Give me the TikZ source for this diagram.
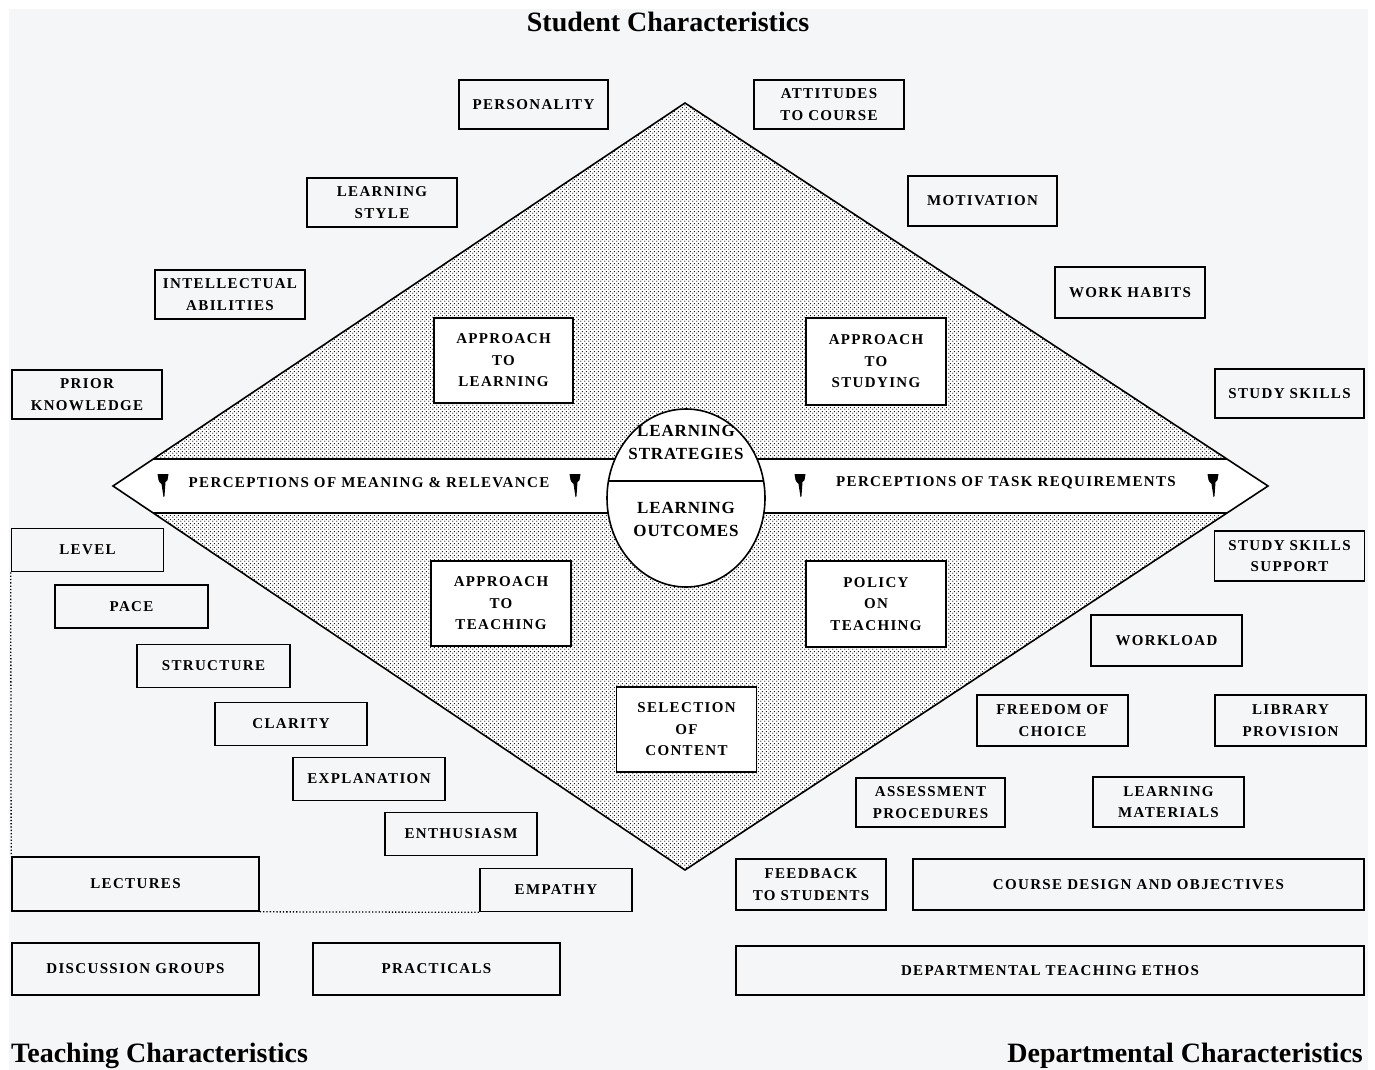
\documentclass[tikz,border=0pt]{standalone}
\usepackage{fontspec}
\setmainfont{Liberation Serif}
\newfontfamily\boxfont[LetterSpace=9]{Liberation Serif}
\newfontfamily\ellfont[LetterSpace=5]{Liberation Serif}
\usetikzlibrary{patterns.meta,shapes.geometric}
\definecolor{bg}{HTML}{F5F6F8}
\tikzdeclarepattern{
  name=mydots,
  type=uncolored,
  bounding box={(0pt,0pt) and (4pt,4pt)},
  tile size={(4pt,4pt)},
  code={
    \pgfpathcircle{\pgfpoint{1pt}{1pt}}{0.72pt}
    \pgfpathcircle{\pgfpoint{3pt}{3pt}}{0.72pt}
    \pgfusepath{fill}
  }
}
\begin{document}
\begin{tikzpicture}[x=1pt,y=-1pt,
  box/.style={draw=black, line width=1.6pt, fill=bg, inner sep=0pt, align=center,
    font=\boxfont\bfseries\fontsize{15}{21.5}\selectfont},
  wbox/.style={box, fill=white},
  bandtext/.style={inner sep=0pt, font=\boxfont\bfseries\fontsize{15}{18}\selectfont},
  title/.style={inner sep=0pt, font=\bfseries\fontsize{28}{32}\selectfont},
  tack/.pic={\fill[black] (-5.5,0) -- (5.5,0) -- (4.5,6) -- (2.5,8) -- (1.5,22) -- (0.5,23) -- (-1.5,10) -- (-3.5,8) -- (-4.5,6) -- cycle;},
  link/.style={dotted, line width=1.3pt}
]
\useasboundingbox (0,0) rectangle (1375,1070);
\fill[white] (0,0) rectangle (1375,1070);
\fill[bg] (9,9) rectangle (1368,1070);

% diamond
\coordinate (dT) at (685,103);
\coordinate (dR) at (1268,486);
\coordinate (dB) at (685,870);
\coordinate (dL) at (113,486);
\fill[white] (dT) -- (dR) -- (dB) -- (dL) -- cycle;
\fill[pattern=mydots, pattern color=black] (dT) -- (dR) -- (dB) -- (dL) -- cycle;
\begin{scope}
  \clip (dT) -- (dR) -- (dB) -- (dL) -- cycle;
  \fill[white] (100,459) rectangle (1280,513);
  \draw[line width=1.6pt] (100,459) -- (1280,459) (100,513) -- (1280,513);
\end{scope}
\draw[line width=1.6pt, line join=miter] (dT) -- (dR) -- (dB) -- (dL) -- cycle;

% central ellipse
\node[ellipse, draw=black, line width=1.6pt, fill=white, minimum width=158pt, minimum height=178pt, inner sep=0pt] (ell) at (686,498) {};
\draw[line width=1.6pt] (608.3,481) -- (763.7,481);
\node[align=center, inner sep=0pt, font=\ellfont\bfseries\fontsize{17}{23}\selectfont] (strat) at (686,442) {LEARNING\\STRATEGIES};
\node[align=center, inner sep=0pt, font=\ellfont\bfseries\fontsize{17}{23}\selectfont] (outc) at (686,519) {LEARNING\\OUTCOMES};

% band texts and tacks
\node[bandtext] (pMeaning) at (369,483) {PERCEPTIONS OF MEANING \& RELEVANCE};
\node[bandtext] (pTask) at (1006,483) {PERCEPTIONS OF TASK REQUIREMENTS};
\pic at (163,474) {tack};
\pic at (575,474) {tack};
\pic at (800,474) {tack};
\pic at (1213,474) {tack};

% titles
\node[title] (tStudent) at (668,22) {Student Characteristics};
\node[title, anchor=west] (tTeach) at (11,1056) {Teaching Characteristics};
\node[title, anchor=east] (tDept) at (1363,1056) {Departmental Characteristics};

% student characteristics
\node[box, minimum width=149pt, minimum height=49pt] (personality) at (533.5,104.5) {PERSONALITY};
\node[box, minimum width=150pt, minimum height=49pt] (attitudes) at (829,104.5) {ATTITUDES\\TO COURSE};
\node[box, minimum width=150pt, minimum height=49pt] (lstyle) at (382,202.5) {LEARNING\\STYLE};
\node[box, minimum width=149pt, minimum height=50pt] (motivation) at (982.5,201) {MOTIVATION};
\node[box, minimum width=150pt, minimum height=49pt] (intellect) at (230,294.5) {INTELLECTUAL\\ABILITIES};
\node[box, minimum width=150pt, minimum height=51pt] (workhabits) at (1130,292.5) {WORK HABITS};
\node[box, minimum width=150pt, minimum height=49pt] (prior) at (87,394.5) {PRIOR\\KNOWLEDGE};
\node[box, minimum width=149pt, minimum height=49pt] (studyskills) at (1289.5,393.5) {STUDY SKILLS};

% inner boxes
\node[wbox, minimum width=139pt, minimum height=85pt] (appLearn) at (503.5,360.5) {APPROACH\\TO\\LEARNING};
\node[wbox, minimum width=140pt, minimum height=87pt] (appStudy) at (876,361.5) {APPROACH\\TO\\STUDYING};
\node[wbox, minimum width=140pt, minimum height=85pt] (appTeach) at (501,603.5) {APPROACH\\TO\\TEACHING};
\node[wbox, minimum width=140pt, minimum height=86pt] (policy) at (876,604) {POLICY\\ON\\TEACHING};
\node[wbox, minimum width=140pt, minimum height=85pt] (selection) at (686.5,729.5) {SELECTION\\OF\\CONTENT};

% teaching characteristics
\node[box, minimum width=152pt, minimum height=43pt] (level) at (87.5,550) {LEVEL};
\node[box, minimum width=153pt, minimum height=43pt] (pace) at (131.5,606.5) {PACE};
\node[box, minimum width=153pt, minimum height=43pt] (structure) at (213.5,666) {STRUCTURE};
\node[box, minimum width=152pt, minimum height=43pt] (clarity) at (291,724) {CLARITY};
\node[box, minimum width=152pt, minimum height=43pt] (explanation) at (369,779) {EXPLANATION};
\node[box, minimum width=152pt, minimum height=43pt] (enthusiasm) at (461,834) {ENTHUSIASM};
\node[box, minimum width=152pt, minimum height=43pt] (empathy) at (556,890) {EMPATHY};
\node[box, minimum width=247pt, minimum height=54pt] (lectures) at (135.5,884) {LECTURES};
\node[box, minimum width=247pt, minimum height=52pt] (discussion) at (135.5,969) {DISCUSSION GROUPS};
\node[box, minimum width=247pt, minimum height=52pt] (practicals) at (436.5,969) {PRACTICALS};

% departmental characteristics
\node[box, minimum width=150pt, minimum height=50pt] (sssupport) at (1289.5,556) {STUDY SKILLS\\SUPPORT};
\node[box, minimum width=151pt, minimum height=51pt] (workload) at (1166.5,640.5) {WORKLOAD};
\node[box, minimum width=151pt, minimum height=51pt] (freedom) at (1052.5,720.5) {FREEDOM OF\\CHOICE};
\node[box, minimum width=151pt, minimum height=51pt] (library) at (1290.5,720.5) {LIBRARY\\PROVISION};
\node[box, minimum width=149pt, minimum height=49pt] (assessment) at (930.5,802.5) {ASSESSMENT\\PROCEDURES};
\node[box, minimum width=151pt, minimum height=50pt] (materials) at (1168.5,802) {LEARNING\\MATERIALS};
\node[box, minimum width=150pt, minimum height=51pt] (feedback) at (811,884.5) {FEEDBACK\\TO STUDENTS};
\node[box, minimum width=451pt, minimum height=51pt] (course) at (1138.5,884.5) {COURSE DESIGN AND OBJECTIVES};
\node[box, minimum width=628pt, minimum height=49pt] (ethos) at (1050,970.5) {DEPARTMENTAL TEACHING ETHOS};

% dotted connectors
\draw[link] (level.south west) -- (lectures.north west);
\draw[link] (lectures.south east) -- (empathy.south west);
\end{tikzpicture}
\end{document}
